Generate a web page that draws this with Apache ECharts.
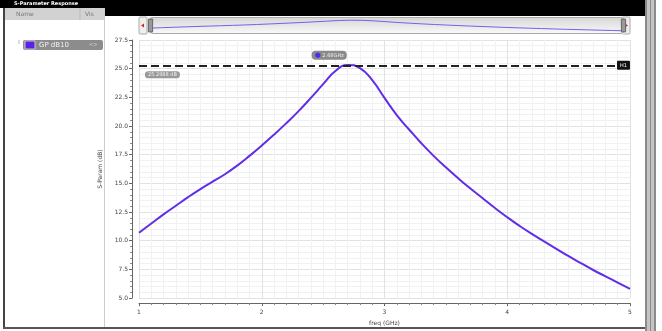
<!DOCTYPE html>
<html>
<head>
<meta charset="utf-8">
<script src="https://cdn.jsdelivr.net/npm/echarts@6/dist/echarts.min.js"></script>
<style>
  html, body { margin: 0; padding: 0; background: #fff; }
  #chart { width: 662px; height: 331px; }
</style>
</head>
<body>
<div id="chart"></div>
<script>
// frequency samples (GHz) and GP dB10 values
const freqGHz = [1.0, 1.1, 1.2, 1.3, 1.4, 1.5, 1.6, 1.7, 1.8, 1.9,
  2.0, 2.1, 2.2, 2.3, 2.4, 2.5, 2.6, 2.7, 2.8, 2.9,
  3.0, 3.1, 3.2, 3.3, 3.4, 3.5, 3.6, 3.7, 3.8, 3.9,
  4.0, 4.1, 4.2, 4.3, 4.4, 4.5, 4.6, 4.7, 4.8, 4.9, 5.0];
const gpDb = [10.7, 11.5, 12.3, 13.05, 13.8, 14.5, 15.15, 15.8, 16.55, 17.4,
  18.3, 19.25, 20.25, 21.3, 22.45, 23.65, 24.8, 25.33, 25.05, 24.0,
  22.45, 20.95, 19.7, 18.5, 17.4, 16.4, 15.45, 14.55, 13.7, 12.85,
  12.05, 11.3, 10.6, 9.95, 9.3, 8.65, 8.05, 7.45, 6.9, 6.35, 5.8];
const xTicks = [1, 2, 3, 4, 5];
const yTicks = [5, 7.5, 10, 12.5, 15, 17.5, 20, 22.5, 25, 27.5];

// marker H1
const peakFreq = 2.68;
const peakVal = 25.2988;
const markerEnd = 4.878;

const chart = echarts.init(document.getElementById('chart'));
const font = 'DejaVu Sans';
const purple = '#5f2ee6';

const option = {
  backgroundColor: '#fff',
  animation: false,
  textStyle: { fontFamily: font },
  grid: { left: 139, right: 32, top: 40, bottom: 32 },
  xAxis: {
    type: 'value',
    min: xTicks[0],
    max: xTicks[xTicks.length - 1],
    interval: 1,
    offset: 5,
    name: 'freq (GHz)',
    nameLocation: 'middle',
    nameGap: 14,
    nameTextStyle: { fontSize: 6, color: '#444' },
    axisLine: { lineStyle: { color: '#666' } },
    axisTick: { length: 3, lineStyle: { color: '#666' } },
    minorTick: { show: true, splitNumber: 10, length: 2, lineStyle: { color: '#888' } },
    axisLabel: { fontSize: 6, color: '#444', margin: 6 },
    splitLine: { show: true, lineStyle: { color: '#e2e2e2' } },
    minorSplitLine: { show: true, lineStyle: { color: '#f1f1f1' } }
  },
  yAxis: {
    type: 'value',
    min: yTicks[0],
    max: yTicks[yTicks.length - 1],
    interval: 2.5,
    offset: 7,
    name: 'S-Param (dB)',
    nameLocation: 'middle',
    nameGap: 21,
    nameTextStyle: { fontSize: 6, color: '#444' },
    axisLine: { show: true, lineStyle: { color: '#666' } },
    axisTick: { show: true, length: 3, lineStyle: { color: '#666' } },
    minorTick: { show: true, splitNumber: 5, length: 2, lineStyle: { color: '#888' } },
    axisLabel: { fontSize: 6, color: '#444', margin: 4, formatter: v => v.toFixed(1) },
    splitLine: { show: true, lineStyle: { color: '#e2e2e2' } },
    minorSplitLine: { show: true, lineStyle: { color: '#f1f1f1' } }
  },
  dataZoom: [{
    type: 'slider',
    xAxisIndex: 0,
    filterMode: 'none',
    start: 0,
    end: 100,
    left: 147,
    right: 40,
    top: 17,
    height: 17,
    showDetail: false,
    brushSelect: false,
    moveHandleSize: 0,
    borderColor: '#aaa',
    borderRadius: 3,
    backgroundColor: new echarts.graphic.LinearGradient(0, 0, 0, 1, [
      { offset: 0, color: '#fafafa' },
      { offset: 1, color: '#d6d6d6' }
    ]),
    fillerColor: 'rgba(0,0,0,0)',
    handleIcon: 'path://M0,0 h4 v12 h-4 z',
    handleSize: '75%',
    handleStyle: { color: '#999', borderColor: '#666' },
    dataBackground: {
      lineStyle: { color: '#7a5cf0', width: 1, opacity: 1 },
      areaStyle: { opacity: 0 }
    },
    selectedDataBackground: {
      lineStyle: { color: '#7a5cf0', width: 1, opacity: 1 },
      areaStyle: { opacity: 0 }
    }
  }],
  series: [{
    name: 'GP dB10',
    type: 'line',
    smooth: true,
    showSymbol: false,
    data: freqGHz.map((f, i) => [f, gpDb[i]]),
    lineStyle: { color: purple, width: 2 },
    markLine: {
      silent: true,
      symbol: ['none', 'none'],
      lineStyle: { color: '#222', type: [8, 4], width: 2 },
      data: [
        [{
          coord: [xTicks[0], peakVal],
          label: {
            position: 'end', distance: 2, formatter: 'H1',
            fontSize: 5, color: '#fff', backgroundColor: '#111',
            padding: [2, 3], borderRadius: 1
          }
        }, { coord: [markerEnd, peakVal] }],
        [{
          coord: [xTicks[0], peakVal],
          label: {
            position: 'insideStartBottom', distance: 6, formatter: '25.2988 dB',
            fontSize: 5, color: '#eee', backgroundColor: '#999',
            padding: [1, 3], borderRadius: 3
          }
        }, { coord: [markerEnd, peakVal] }]
      ]
    },
    markPoint: {
      silent: true,
      symbol: 'circle',
      symbolSize: 0,
      data: [{ coord: [peakFreq, peakVal] }],
      label: {
        show: true,
        offset: [-16, -10],
        formatter: '{d|●} 2.68GHz',
        fontSize: 5,
        color: '#f0f0f0',
        backgroundColor: '#8a8a8a',
        padding: [1, 3],
        borderRadius: 4,
        rich: { d: { color: '#4a2df0', fontSize: 7 } }
      }
    }
  }],
  graphic: [
    // window title bar
    { type: 'rect', shape: { x: 0, y: 0, width: 645, height: 8 }, style: { fill: '#000' }, silent: true },
    { type: 'rect', shape: { x: 104, y: 0, width: 541, height: 16 }, style: { fill: '#000' }, silent: true },
    { type: 'text', x: 14, y: 4, style: { text: 'S-Parameter Response', fill: '#fff', font: 'bold 5px ' + font, verticalAlign: 'middle' }, silent: true },
    // legend panel
    { type: 'rect', shape: { x: 4, y: 8, width: 100, height: 12 }, style: { fill: '#d2d2d2' }, silent: true },
    { type: 'text', x: 16, y: 14, style: { text: 'Name', fill: '#777', font: '6px ' + font, verticalAlign: 'middle' }, silent: true },
    { type: 'text', x: 85, y: 14, style: { text: 'Vis', fill: '#777', font: '6px ' + font, verticalAlign: 'middle' }, silent: true },
    { type: 'line', shape: { x1: 80, y1: 8, x2: 80, y2: 20 }, style: { stroke: '#bbb', lineWidth: 1 }, silent: true },
    { type: 'rect', shape: { x: 3, y: 8, width: 2, height: 320 }, style: { fill: '#444' }, silent: true },
    { type: 'line', shape: { x1: 104.5, y1: 8, x2: 104.5, y2: 327 }, style: { stroke: '#ccc', lineWidth: 1 }, silent: true },
    { type: 'rect', shape: { x: 3, y: 327, width: 642, height: 2 }, style: { fill: '#555' }, silent: true },
    { type: 'line', shape: { x1: 19, y1: 40, x2: 19, y2: 44 }, style: { stroke: '#bbb', lineWidth: 1 }, silent: true },
    { type: 'rect', shape: { x: 23, y: 40, width: 80, height: 10, r: 2 }, style: { fill: '#8c8c8c' }, silent: true },
    { type: 'rect', shape: { x: 25, y: 41, width: 10, height: 8 }, style: { fill: '#5a22e6', stroke: '#c8c8c8', lineWidth: 1 }, silent: true },
    { type: 'text', x: 39, y: 45, style: { text: 'GP dB10', fill: '#f2f2f2', font: '7px ' + font, verticalAlign: 'middle' }, silent: true },
    { type: 'text', x: 89, y: 45, style: { text: '<>', fill: '#bcd8f4', font: '5px ' + font, verticalAlign: 'middle' }, silent: true },
    // right window border
    { type: 'rect', shape: { x: 645, y: 0, width: 11, height: 331 }, style: { fill: '#c4c4c4' }, silent: true },
    { type: 'line', shape: { x1: 646, y1: 0, x2: 646, y2: 331 }, style: { stroke: '#777', lineWidth: 1.5 }, silent: true },
    { type: 'line', shape: { x1: 650.5, y1: 0, x2: 650.5, y2: 331 }, style: { stroke: '#888', lineWidth: 1 }, silent: true },
    { type: 'line', shape: { x1: 655, y1: 0, x2: 655, y2: 331 }, style: { stroke: '#777', lineWidth: 1.5 }, silent: true },
    // slider end buttons
    { type: 'rect', shape: { x: 139, y: 17, width: 8, height: 17, r: 1 }, style: { fill: '#eee', stroke: '#aaa', lineWidth: 1 }, silent: true },
    { type: 'polygon', shape: { points: [[141, 25.5], [144, 23.5], [144, 27.5]] }, style: { fill: '#d22' }, silent: true },
    { type: 'rect', shape: { x: 622, y: 17, width: 8, height: 17, r: 1 }, style: { fill: '#eee', stroke: '#aaa', lineWidth: 1 }, silent: true },
    { type: 'polygon', shape: { points: [[628, 25.5], [625, 23.5], [625, 27.5]] }, style: { fill: '#d22' }, silent: true }
  ]
};

chart.setOption(option);
</script>
</body>
</html>
